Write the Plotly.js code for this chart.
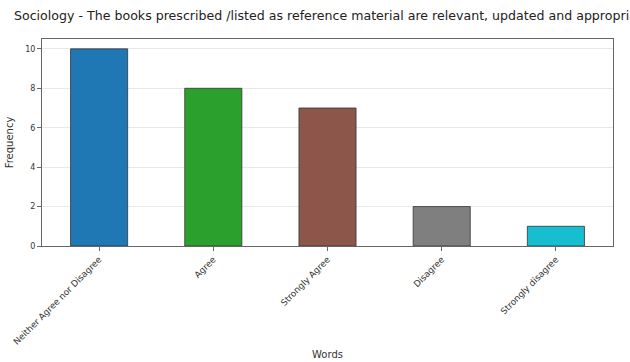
<!DOCTYPE html>
<html><head><meta charset="utf-8">
<script src="https://cdn.plot.ly/plotly-3.0.1.min.js"></script>
<style>body{margin:0;padding:0;background:#fff}#c{width:630px;height:362px}</style>
</head><body><div id="c"></div>
<script>
const categories = ["Neither Agree nor Disagree", "Agree", "Strongly Agree", "Disagree", "Strongly disagree"];
const frequencies = [10, 8, 7, 2, 1];
const barColors = ["#1f77b4", "#2ca02c", "#8c564b", "#7f7f7f", "#17becf"];
const yTicks = [0, 2, 4, 6, 8, 10];

const trace = {
  type: "bar",
  x: categories,
  y: frequencies,
  width: 0.5,
  marker: {color: barColors, line: {color: "#333333", width: 0.8}},
  hoverinfo: "x+y"
};
const layout = {
  width: 630, height: 362,
  margin: {l: 42, r: 17, t: 39, b: 116},
  paper_bgcolor: "#ffffff", plot_bgcolor: "#ffffff",
  font: {family: "DejaVu Sans, sans-serif", color: "#222"},
  showlegend: false,
  title: {text: "Sociology - The books prescribed /listed as reference material are relevant, updated and appropriate",
          x: 14/630, xref: "container", xanchor: "left", y: 1 - 16/362, yref: "container", yanchor: "middle",
          font: {size: 12.6, color: "#222"}},
  xaxis: {
    type: "category", range: [-0.5, 4.5], tickangle: -45,
    tickfont: {size: 8.8, color: "#333"},
    showline: true, linecolor: "#666", linewidth: 1, mirror: true,
    ticks: "outside", ticklen: 4, tickcolor: "#666",
    showgrid: false,
    title: {text: "Words", font: {size: 10, color: "#333"}, standoff: 5}
  },
  yaxis: {
    range: [0, 10.5], tickvals: yTicks,
    tickfont: {size: 8, color: "#333"},
    showline: true, linecolor: "#666", linewidth: 1, mirror: true,
    ticks: "outside", ticklen: 4, tickcolor: "#666",
    showgrid: true, gridcolor: "#e8e8e8", gridwidth: 1, zeroline: false,
    title: {text: "Frequency", font: {size: 10, color: "#333"}, standoff: 9}
  }
};
Plotly.newPlot("c", [trace], layout, {displayModeBar: false, staticPlot: true});
</script></body></html>
